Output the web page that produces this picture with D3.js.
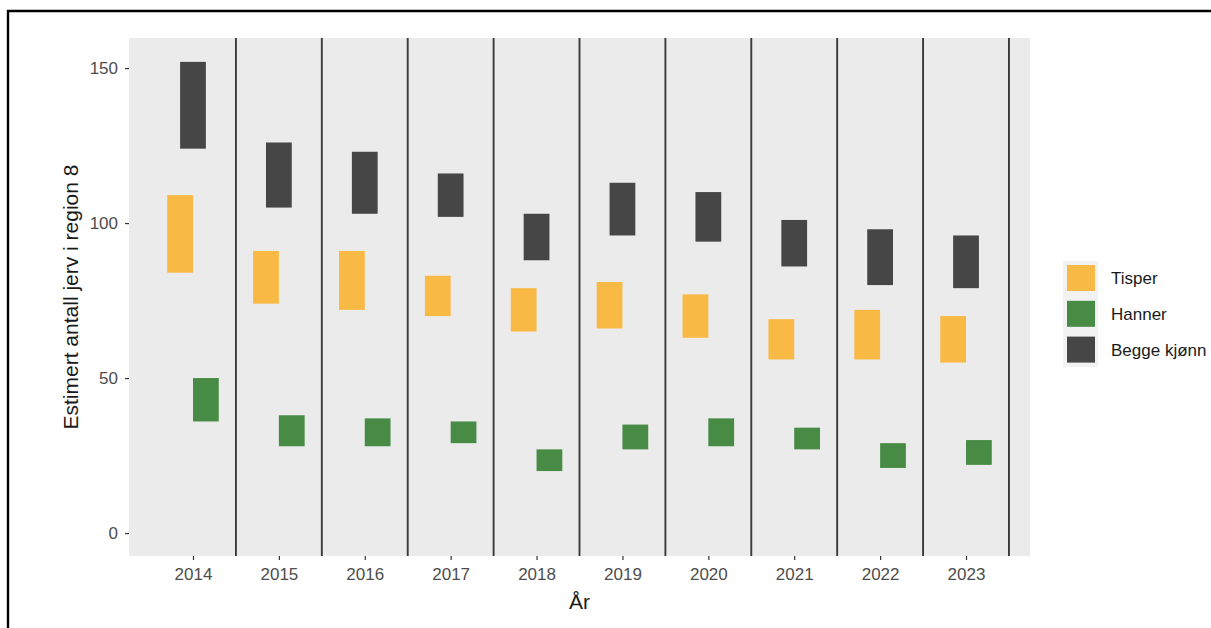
<!DOCTYPE html>
<html>
<head>
<meta charset="utf-8">
<script src="https://cdn.jsdelivr.net/npm/d3@7"></script>
<style>
  body { margin: 0; background: #fff; overflow: hidden; }
  svg { display: block; overflow: hidden; font-family: "Liberation Sans", Arial, sans-serif; }
</style>
</head>
<body>
<div id="chart-area"></div>
<script>
// years on the x axis
const years = [2014, 2015, 2016, 2017, 2018, 2019, 2020, 2021, 2022, 2023];

// interval estimates (low / high)
const tisperLow  = [84, 74, 72, 70, 65, 66, 63, 56, 56, 55];
const tisperHigh = [109, 91, 91, 83, 79, 81, 77, 69, 72, 70];
const hannerLow  = [36, 28, 28, 29, 20, 27, 28, 27, 21, 22];
const hannerHigh = [50, 38, 37, 36, 27, 35, 37, 34, 29, 30];
const beggeLow   = [124, 105, 103, 102, 88, 96, 94, 86, 80, 79];
const beggeHigh  = [152, 126, 123, 116, 103, 113, 110, 101, 98, 96];

const seriesNames = ["Tisper", "Hanner", "Begge kjønn"];
const yTicks = [0, 50, 100, 150];

const chartWidth = 1211;
const chartHeight = 628;

// panel box
const panel = {left: 129, right: 1030, top: 38, bottom: 556};

const colors = {"Tisper": "#F9B945", "Hanner": "#478B45", "Begge kjønn": "#464646"};
const offsets = {"Tisper": -0.15, "Hanner": 0.15, "Begge kjønn": 0};
const barWidth = 0.3;

const series = [
  {name: "Tisper", low: tisperLow, high: tisperHigh},
  {name: "Hanner", low: hannerLow, high: hannerHigh},
  {name: "Begge kjønn", low: beggeLow, high: beggeHigh}
];

let svg = d3.select("#chart-area").append("svg")
  .attr("width", chartWidth)
  .attr("height", chartHeight);

// outer frame of the figure (cut by the screenshot)
svg.append("path")
  .attr("d", "M8,640 L8,11 L1230,11")
  .attr("fill", "none")
  .attr("stroke", "#000")
  .attr("stroke-width", 2.4);

const x = d3.scaleLinear()
  .domain([2014 - 0.745, 2023 + 0.745])
  .range([panel.left, panel.right]);

const y = d3.scaleLinear()
  .domain([-7.4, 159.7])
  .range([panel.bottom, panel.top]);

// panel background
svg.append("rect")
  .attr("x", panel.left)
  .attr("y", panel.top)
  .attr("width", panel.right - panel.left)
  .attr("height", panel.bottom - panel.top)
  .attr("fill", "#EBEBEB");

// separator lines between years
svg.append("g").selectAll("line").data(years).enter().append("line")
  .attr("x1", d => x(d + 0.5))
  .attr("x2", d => x(d + 0.5))
  .attr("y1", panel.top)
  .attr("y2", panel.bottom)
  .attr("stroke", "#3a3a3a")
  .attr("stroke-width", 1.9);

// interval rectangles
series.forEach(s => {
  svg.append("g").selectAll("rect").data(years).enter().append("rect")
    .attr("x", d => x(d + offsets[s.name] - barWidth / 2))
    .attr("width", x(barWidth) - x(0))
    .attr("y", (d, i) => y(s.high[i]))
    .attr("height", (d, i) => y(s.low[i]) - y(s.high[i]))
    .attr("fill", colors[s.name]);
});

// y axis
let yAxis = svg.append("g")
  .attr("transform", `translate(${panel.left}, 0)`)
  .call(d3.axisLeft(y).tickValues(yTicks).tickSize(4).tickPadding(7).tickFormat(d3.format("d")));
yAxis.select(".domain").remove();
yAxis.selectAll("line").attr("stroke", "#333").attr("stroke-width", 1.2);
yAxis.selectAll("text").attr("fill", "#4d4d4d").attr("font-size", "17px")
  .attr("font-family", "Liberation Sans, Arial, sans-serif");

// x axis
let xAxis = svg.append("g")
  .attr("transform", `translate(0, ${panel.bottom})`)
  .call(d3.axisBottom(x).tickValues(years).tickSize(4).tickPadding(8).tickFormat(d3.format("d")));
xAxis.select(".domain").remove();
xAxis.selectAll("line").attr("stroke", "#333").attr("stroke-width", 1.2);
xAxis.selectAll("text").attr("fill", "#4d4d4d").attr("font-size", "17px")
  .attr("font-family", "Liberation Sans, Arial, sans-serif");

// axis titles
svg.append("text")
  .attr("x", (panel.left + panel.right) / 2)
  .attr("y", 609)
  .attr("text-anchor", "middle")
  .attr("font-size", "21px")
  .attr("fill", "#1a1a1a")
  .text("År");

svg.append("text")
  .attr("transform", `translate(78, ${(panel.top + panel.bottom) / 2}) rotate(-90)`)
  .attr("text-anchor", "middle")
  .attr("font-size", "21px")
  .attr("fill", "#1a1a1a")
  .text("Estimert antall jerv i region 8");

// legend
let legend = svg.append("g").attr("transform", "translate(1063, 261)");
legend.append("rect")
  .attr("width", 35)
  .attr("height", 106)
  .attr("fill", "#F2F2F2");
let items = legend.selectAll(".item").data(seriesNames).enter().append("g")
  .attr("class", "item")
  .attr("transform", (d, i) => `translate(0, ${4 + i * 35.8})`);
items.append("rect")
  .attr("x", 4)
  .attr("width", 28)
  .attr("height", 26)
  .attr("fill", d => colors[d]);
items.append("text")
  .attr("x", 48)
  .attr("y", 13)
  .attr("dy", "0.35em")
  .attr("font-size", "17px")
  .attr("fill", "#1a1a1a")
  .text(d => d);
</script>
</body>
</html>
